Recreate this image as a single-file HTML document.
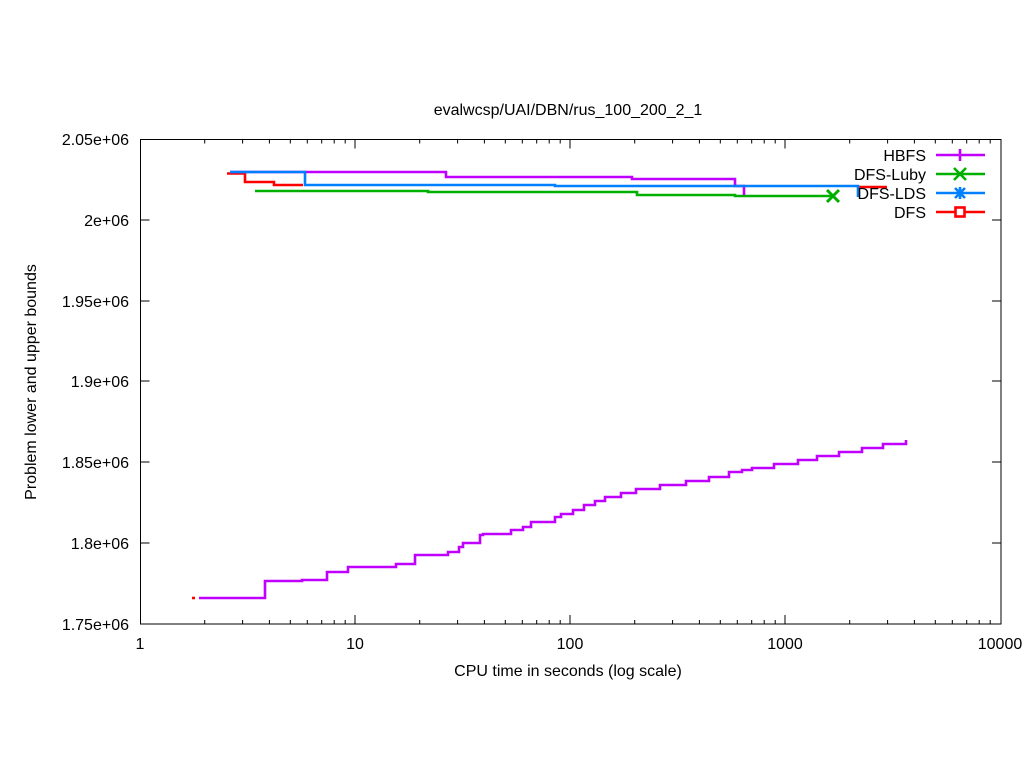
<!DOCTYPE html>
<html><head><meta charset="utf-8"><style>
html,body{margin:0;padding:0;background:#fff;}
svg{display:block;font-family:"Liberation Sans",Arial,sans-serif;font-size:16px;}
</style></head><body>
<svg width="1024" height="768" viewBox="0 0 1024 768" xmlns="http://www.w3.org/2000/svg">
<defs>
<g id="minor" stroke="#000" stroke-width="1">
<path d="M64.7 624v-4M102.6 624v-4M129.4 624v-4M150.3 624v-4M167.3 624v-4M181.7 624v-4M194.2 624v-4M205.2 624v-4M64.7 139.5v4M102.6 139.5v4M129.4 139.5v4M150.3 139.5v4M167.3 139.5v4M181.7 139.5v4M194.2 139.5v4M205.2 139.5v4"/>
</g>
</defs>
<rect x="140.5" y="139.5" width="860.5" height="484.5" fill="none" stroke="#000" stroke-width="1"/>
<g stroke="#000" stroke-width="1">
<path d="M140.5 220h9M140.5 301h9M140.5 381h9M140.5 462h9M140.5 543h9M1001 220h-9M1001 301h-9M1001 381h-9M1001 462h-9M1001 543h-9"/>
<path d="M355 624v-9M570 624v-9M785 624v-9M355 139.5v9M570 139.5v9M785 139.5v9"/>
</g>
<use href="#minor" x="140"/><use href="#minor" x="355"/><use href="#minor" x="570"/><use href="#minor" x="785"/>
<g text-anchor="end" fill="#000">
<text x="129" y="145">2.05e+06</text>
<text x="129" y="226">2e+06</text>
<text x="129" y="307">1.95e+06</text>
<text x="129" y="387">1.9e+06</text>
<text x="129" y="468">1.85e+06</text>
<text x="129" y="549">1.8e+06</text>
<text x="129" y="630">1.75e+06</text>
</g>
<g text-anchor="middle" fill="#000">
<text x="140" y="649">1</text>
<text x="355" y="649">10</text>
<text x="570" y="649">100</text>
<text x="785" y="649">1000</text>
<text x="1000" y="649">10000</text>
<text x="568" y="115">evalwcsp/UAI/DBN/rus_100_200_2_1</text>
<text x="568" y="676">CPU time in seconds (log scale)</text>
<text transform="translate(36,382) rotate(-90)">Problem lower and upper bounds</text>
</g>
<g fill="none" stroke-width="2.6">
<path stroke="#00b000" d="M255 191H428V192H637V195H735V196H833"/>
<path stroke="#00b000" stroke-width="3" d="M827 190l12 12M839 190l-12 12"/>
<path stroke="#ff0000" d="M227 173.5H245V182H274V185H303M858 187H887"/>
<path stroke="#c000ff" d="M230 172H446V177H632V179H735V186H744V195"/>
<path stroke="#0080ff" d="M230 172H305V185H555V186H858V197"/>
<path stroke="#c000ff" d="M199 598H265V581H302V580H327V572H348V567H396V564H415V555H448V552H459V547H463V543H480V535H483V534H511V530H523V527H531V522H555V517H561V514H573V510H584V505H595V501H605V497H621V493H636V489H660V485H686V481H709V477H729V472H742V470H752V468H774V464H798V460H817V456H839V452H862V448H883V444H906V440"/>
<path stroke="#ff0000" d="M192 598h3"/>
</g>
<g fill="#000" text-anchor="end">
<text x="926" y="161">HBFS</text>
<text x="926" y="180">DFS-Luby</text>
<text x="926" y="199">DFS-LDS</text>
<text x="926" y="218">DFS</text>
</g>
<g fill="none" stroke-width="2.6">
<path stroke="#c000ff" d="M936 155H985M960 149v12"/>
<path stroke="#00b000" d="M936 174H985M954 168l12 12M966 168l-12 12"/>
<path stroke="#0080ff" d="M936 193H985M955 188l10 10M965 188l-10 10M960 187v12"/>
<path stroke="#ff0000" d="M936 212H985"/>
<rect x="955.5" y="207.5" width="9" height="9" stroke="#ff0000" fill="#fff"/>
</g>
</svg>
</body></html>
